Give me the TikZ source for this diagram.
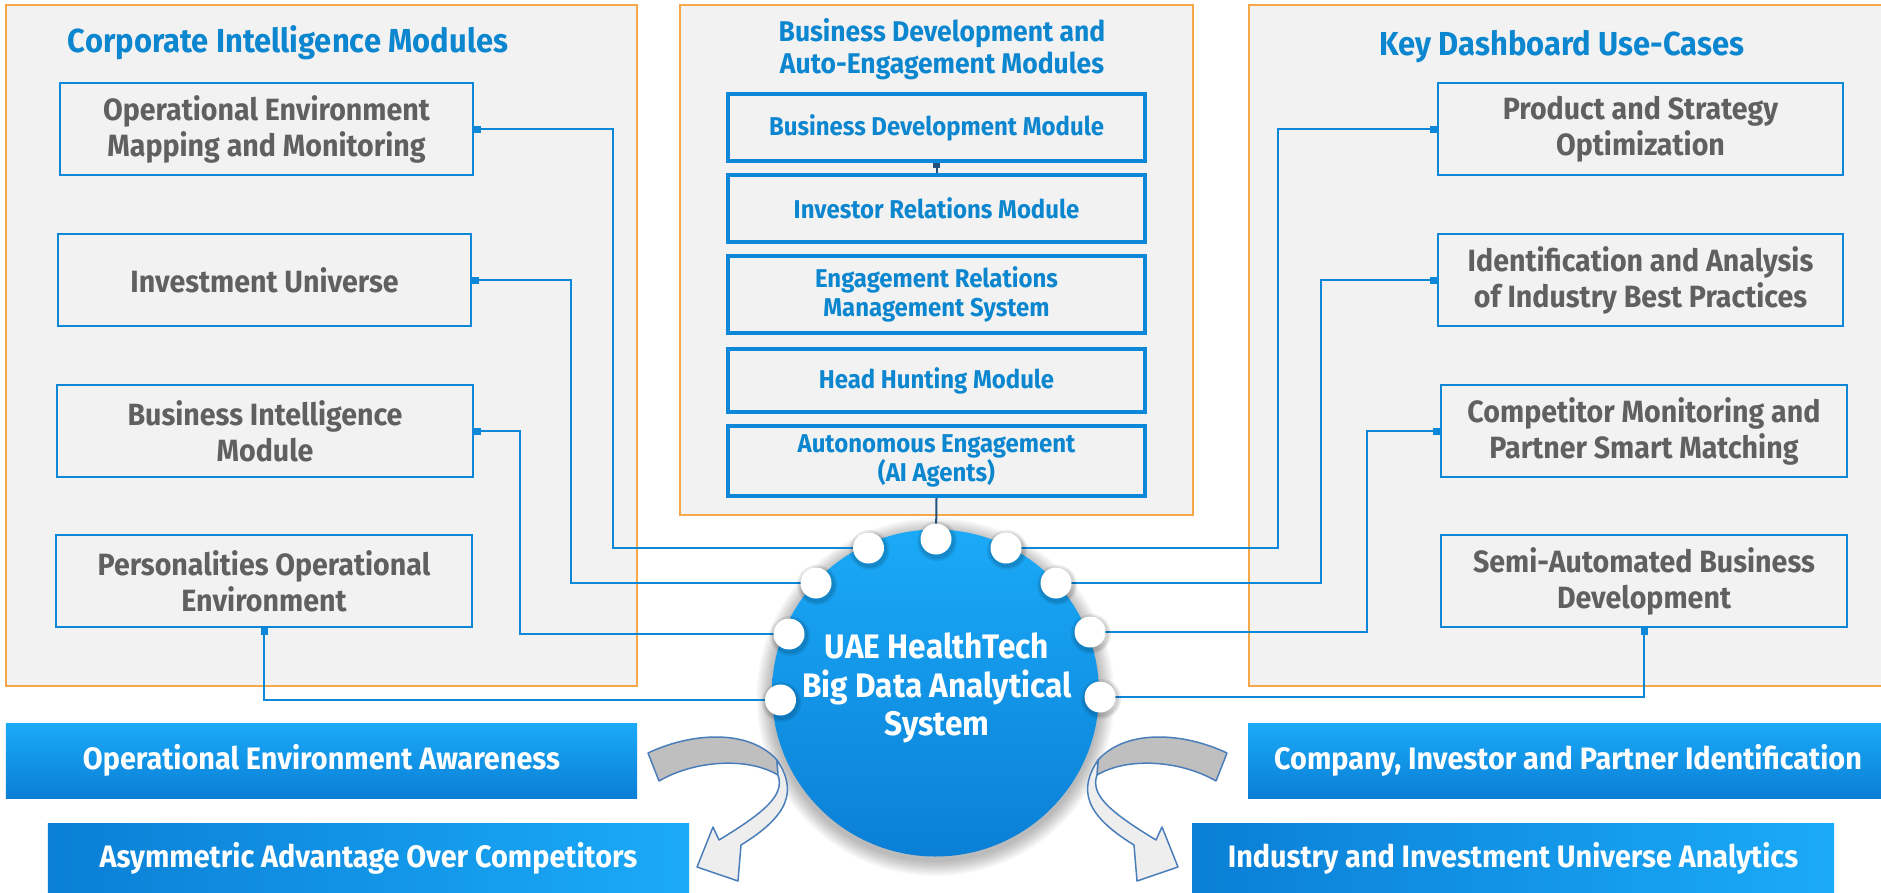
\documentclass[tikz,border=0pt]{standalone}
\usepackage{fontspec}
\setmainfont{Fira Sans}[FakeStretch=0.93]
\usetikzlibrary{arrows.meta,fit,calc}
\definecolor{orangeC}{HTML}{F8A748}
\definecolor{panelC}{HTML}{F2F2F2}
\definecolor{blueC}{HTML}{0D87D8}
\definecolor{grayT}{HTML}{606060}
\definecolor{blueT}{HTML}{0B86CF}
\definecolor{navyC}{HTML}{23507F}
\definecolor{lightB}{HTML}{1BAAF8}
\definecolor{darkB}{HTML}{0A7FD5}
\definecolor{arrEdge}{HTML}{4A7EBB}
\definecolor{arrBack}{HTML}{BFBFBF}
\definecolor{arrFront}{HTML}{EEEEEE}
\tikzset{
  panel/.style={draw=orangeC, line width=1pt, fill=panelC, inner sep=0pt},
  cibox/.style={rectangle, draw=blueC, line width=1pt, fill=panelC, inner sep=0pt, text=grayT,
     font=\fontsize{12.3}{14.4}\selectfont\bfseries, align=center, minimum height=36.8pt},
  mbox/.style={rectangle, draw=blueC, line width=1.6pt, fill=panelC, inner sep=0pt, text=blueT,
     font=\fontsize{10.3}{11.3}\selectfont\bfseries, align=center, minimum width=166.8pt},
  ptitle/.style={text=blueT, font=\fontsize{13.3}{15}\selectfont\bfseries, align=center, inner sep=0pt},
  mtitle/.style={text=blueT, font=\fontsize{11.4}{12.8}\selectfont\bfseries, align=center, inner sep=0pt},
  conn/.style={draw=blueC, line width=0.8pt},
  sq/.style={{Square[length=2.8pt,width=2.8pt]}-},
  navyconn/.style={draw=navyC, line width=0.8pt},
  dotn/.style={circle, fill=white, minimum size=12.4pt, inner sep=0pt},
  banner/.style={rectangle, draw=none, inner sep=0pt, text=white,
     font=\fontsize{12.4}{14}\selectfont\bfseries},
  vbanner/.style={banner, top color=lightB, bottom color=darkB},
  hbanner/.style={banner, left color=darkB, right color=lightB},
  arrowback/.style={fill=arrBack, draw=arrEdge, line width=0.6pt, line join=round},
  arrowfront/.style={fill=arrFront, draw=arrEdge, line width=0.6pt, line join=round},
}
\begin{document}
\begin{tikzpicture}[x=0.4pt,y=-0.4pt]
\useasboundingbox (0,0) rectangle (1881,893);
\clip (0,0) rectangle (1881,893);
\fill[white] (0,0) rectangle (1881,893);

% panels
\node[panel, fit={(6,5) (637,686)}] (lp) {};
\node[panel, fit={(680,5) (1193,515)}] (mp) {};
\node[panel, fit={(1249,5) (1890,686)}] (rp) {};

% titles
\node[ptitle] (lt) at (288,43) {Corporate Intelligence Modules};
\node[mtitle] (mt) at (942,49) {Business Development and\\Auto-Engagement Modules};
\node[ptitle] (rt) at (1562,47) {Key Dashboard Use-Cases};

% left boxes
\node[cibox, minimum width=165.2pt] (l1) at (266.5,129) {Operational Environment\\Mapping and Monitoring};
\node[cibox, minimum width=165.2pt] (l2) at (264.5,280) {Investment Universe};
\node[cibox, minimum width=166.4pt] (l3) at (265,431) {Business Intelligence\\Module};
\node[cibox, minimum width=166.4pt] (l4) at (264,581) {Personalities Operational\\Environment};

% right boxes
\node[cibox, minimum width=162pt] (r1) at (1640.5,129) {Product and Strategy\\Optimization};
\node[cibox, minimum width=162pt] (r2) at (1640.5,280) {Identification and Analysis\\of Industry Best Practices};
\node[cibox, minimum width=162.4pt] (r3) at (1644,431) {Competitor Monitoring and\\Partner Smart Matching};
\node[cibox, minimum width=162.4pt] (r4) at (1644,581) {Semi-Automated Business\\Development};

% middle boxes
\node[mbox, minimum height=26.8pt] (mA) at (936.5,127.5) {Business Development Module};
\node[mbox, minimum height=26.8pt] (mB) at (936.5,208.5) {Investor Relations Module};
\node[mbox, minimum height=30.8pt] (mC) at (936.5,294.5) {Engagement Relations\\Management System};
\node[mbox, minimum height=25.2pt] (mD) at (936.5,380.5) {Head Hunting Module};
\node[mbox, minimum height=28pt] (mE) at (936.5,461) {Autonomous Engagement\\(AI Agents)};

% central circle shadow
\foreach \k in {1,...,12}
  \fill[black, opacity=0.022] (935.5,697) circle[radius={163.5+\k*1.3}];
% dot coordinates
\coordinate (cL1) at (868.5,548);
\coordinate (cL2) at (816,583);
\coordinate (cL3) at (789,634);
\coordinate (cL4) at (780.5,700);
\coordinate (cT) at (936,539);
\coordinate (cR1) at (1006,548);
\coordinate (cR2) at (1056,583);
\coordinate (cR3) at (1090,632);
\coordinate (cR4) at (1100,697);

% connectors
\draw[conn, sq] (l1.east) -- ++(139,0) |- (cL1);
\draw[conn, sq] (l2.east) -- ++(99,0) |- (cL2);
\draw[conn, sq] (l3.east) -- ++(46,0) |- (cL3);
\draw[conn, sq] (l4.south) |- (cL4);
\draw[conn, sq] (r1.west) -- ++(-159,0) |- (cR1);
\draw[conn, sq] (r2.west) -- ++(-116,0) |- (cR2);
\draw[conn, sq] (r3.west) -- ++(-73,0) |- (cR3);
\draw[conn, sq] (r4.south) |- (cR4);
\draw[navyconn, -{Square[length=2pt,width=3pt]}] (mB.north) -- (mA.south);
\draw[navyconn] (mE.south) -- (cT);

% central circle
\node[circle, minimum size=130.8pt, inner sep=0pt, top color=lightB, bottom color=darkB] (hub) at (935.5,693) {};
\node[text=white, font=\fontsize{13.6}{15.4}\selectfont\bfseries, align=center, inner sep=0pt]
  (hubtext) at (937,688) {UAE HealthTech\\Big Data Analytical\\System};

% dots
\foreach \c in {cL1,cL2,cL3,cL4,cT,cR1,cR2,cR3,cR4}{
  \fill[black, opacity=0.10] ($(\c)+(1,2)$) circle[radius=18];
  \fill[black, opacity=0.08] ($(\c)+(1,2)$) circle[radius=20];
}
\node[dotn] (dL1) at (cL1) {};
\node[dotn] (dL2) at (cL2) {};
\node[dotn] (dL3) at (cL3) {};
\node[dotn] (dL4) at (cL4) {};
\node[dotn] (dT) at (cT) {};
\node[dotn] (dR1) at (cR1) {};
\node[dotn] (dR2) at (cR2) {};
\node[dotn] (dR3) at (cR3) {};
\node[dotn] (dR4) at (cR4) {};

% banners
\node[vbanner, minimum width=252.4pt, minimum height=30pt] (b1) at (321.5,760.5) {Operational Environment Awareness};
\node[hbanner, minimum width=256.4pt, minimum height=28pt] (b2) at (368.5,858) {Asymmetric Advantage Over Competitors};
\fill[top color=lightB, bottom color=darkB] (1248,723) rectangle (1890,798);
\node[banner] (b3) at (1568,760.5) {Company, Investor and Partner Identification};
\node[hbanner, minimum width=256.8pt, minimum height=28pt] (b4) at (1513,858) {Industry and Investment Universe Analytics};

% curved arrows
\foreach \s in {1,-1}{
\begin{scope}[shift={({937.5-937.5*\s},0)}, xscale=\s]
  \filldraw[arrowback] (648,753) .. controls (690,733) and (748,728) .. (777,760)
      -- (778,775) .. controls (748,757) and (695,760) .. (659,781) -- cycle;
  \filldraw[arrowfront] (777,760) .. controls (797,790) and (790,815) .. (741,845)
      -- (738,881) -- (697,867) -- (713,827) -- (719,840)
      .. controls (765,812) and (785,795) .. (778,775) -- cycle;
\end{scope}
}
\end{tikzpicture}
\end{document}
